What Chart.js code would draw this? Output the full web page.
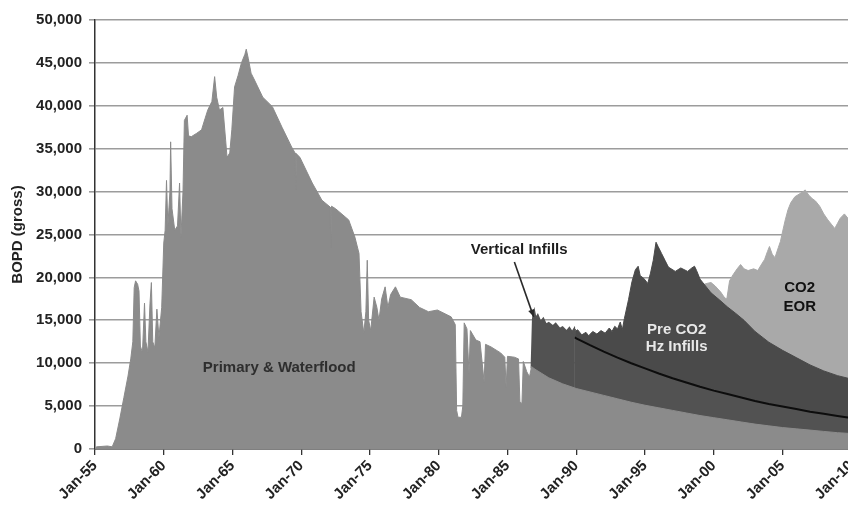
<!DOCTYPE html>
<html>
<head>
<meta charset="utf-8">
<script src="https://cdn.jsdelivr.net/npm/chart.js@4.4.1/dist/chart.umd.min.js"></script>
<style>
  html, body { margin: 0; padding: 0; background: #fff; overflow: hidden; }
  #wrap { position: absolute; left: 0; top: 0; width: 866px; height: 508px; }
</style>
</head>
<body>
<div id="wrap"><canvas id="c" width="866" height="508"></canvas></div>
<script>
// ---- Data (BOPD gross, top edge of each stacked band) ----
const tickYears = [1955,1960,1965,1970,1975,1980,1985,1990,1995,2000,2005,2010];
const tickLabels = ['Jan-55','Jan-60','Jan-65','Jan-70','Jan-75','Jan-80','Jan-85','Jan-90','Jan-95','Jan-00','Jan-05','Jan-10'];
const yTickValues = [0,5000,10000,15000,20000,25000,30000,35000,40000,45000,50000];

// Primary & Waterflood
const primaryYears = [1955.0,1955.1,1955.9,1956.25,1956.5,1956.8,1957.1,1957.4,1957.6,1957.75,1957.85,1957.95,1958.1,1958.2,1958.3,1958.45,1958.6,1958.7,1958.85,1959.0,1959.1,1959.2,1959.35,1959.5,1959.65,1959.85,1960.0,1960.1,1960.2,1960.3,1960.45,1960.5,1960.6,1960.8,1961.0,1961.15,1961.25,1961.4,1961.5,1961.7,1961.8,1962.0,1962.4,1962.75,1963.0,1963.2,1963.5,1963.7,1963.85,1964.05,1964.3,1964.5,1964.6,1964.8,1964.95,1965.15,1965.4,1965.65,1965.9,1966.0,1966.15,1966.35,1966.6,1967.2,1967.9,1968.6,1969.3,1969.55,1969.6,1969.65,1969.9,1970.8,1971.5,1972.1,1972.15,1972.2,1972.5,1973.45,1973.9,1974.2,1974.35,1974.55,1974.7,1974.8,1974.9,1975.05,1975.3,1975.5,1975.65,1975.85,1976.1,1976.3,1976.5,1976.85,1977.2,1978.0,1978.6,1979.25,1979.9,1980.9,1981.2,1981.3,1981.4,1981.65,1981.75,1981.85,1982.05,1982.2,1982.3,1982.7,1983.0,1983.3,1983.4,1983.8,1984.5,1984.8,1984.9,1985.0,1985.5,1985.8,1985.9,1986.05,1986.15,1986.4,1986.6,1986.75,1987,1988,1989,1990,1991,1992,1993,1994,1995,1996,1997,1998,1999,2000,2001,2002,2003,2004,2005,2006,2007,2008,2009,2010];
const primaryValues = [0,250,350,250,1200,3500,6000,8500,10500,12500,18800,19600,19200,18400,12000,11200,17000,12500,11300,17000,19400,12500,11800,16300,13000,16500,24000,25500,31300,26000,30000,35800,28000,25500,26000,31000,24700,30000,38300,38900,36500,36400,36800,37200,38500,39500,40500,43400,41000,39500,39800,36000,34000,34500,37200,42200,43500,45000,46000,46600,45500,43800,43000,41000,39900,37500,35200,34500,30200,34400,34000,31000,29000,28200,23500,28300,28000,26700,24700,22800,16000,13500,16000,22000,15000,13800,17700,16500,15000,17500,18900,16500,18000,18900,17700,17400,16500,16000,16200,15400,14500,4500,3700,3700,5000,14700,14000,8800,13800,12700,12500,7800,12200,11900,11200,10700,7200,10800,10700,10500,5500,5300,10200,9000,8400,9600,9300,8300,7600,7050,6650,6250,5850,5450,5100,4800,4500,4200,3900,3650,3400,3150,2900,2700,2500,2350,2200,2050,1900,1800];

// Vertical Infills (cumulative top)
const verticalYears = [1986.75,1986.85,1986.95,1987.05,1987.2,1987.4,1987.6,1987.8,1988.0,1988.3,1988.5,1988.8,1989.0,1989.3,1989.5,1989.7,1989.85,1989.9,1990,1991,1992,1993,1994,1995,1996,1997,1998,1999,2000,2001,2002,2003,2004,2005,2006,2007,2008,2009,2010];
const verticalValues = [9400,15200,16000,15200,15600,14800,15200,14500,14700,14300,14600,14000,14200,13700,14100,13600,14000,13000,12900,12100,11350,10650,10000,9400,8800,8250,7750,7250,6800,6400,6000,5600,5250,4950,4650,4350,4100,3850,3600];

// Pre CO2 Hz Infills (cumulative top)
const hzYears = [1989.85,1990.1,1990.4,1990.7,1990.9,1991.2,1991.5,1991.8,1992.1,1992.4,1992.6,1992.8,1993.0,1993.2,1993.35,1993.5,1993.8,1994.05,1994.3,1994.5,1994.65,1994.9,1995.2,1995.4,1995.6,1995.8,1995.95,1996.2,1996.45,1996.7,1997.2,1997.6,1998.1,1998.4,1998.6,1998.75,1999.0,1999.4,1999.8,2000.4,2001.0,2001.6,2002.2,2003.0,2004.0,2005.0,2006.0,2007.0,2008.0,2009.0,2010.0];
const hzValues = [13600,13900,13300,13600,13200,13700,13400,13800,13500,14100,13700,14300,14000,14800,13900,15200,17400,19500,20900,21300,20200,19900,19300,20500,22000,24100,23600,22800,22000,21200,20700,21100,20700,21100,21300,20800,19800,19000,18200,17400,16550,15800,15000,13700,12450,11500,10650,9800,9100,8550,8150];

// CO2 EOR (cumulative top)
const co2Years = [1999.3,1999.5,1999.8,2000.1,2000.5,2000.8,2000.95,2001.15,2001.4,2001.7,2001.95,2002.2,2002.5,2002.9,2003.2,2003.5,2003.7,2003.9,2004.05,2004.25,2004.45,2004.7,2004.85,2005.0,2005.2,2005.4,2005.6,2005.9,2006.2,2006.5,2006.65,2006.9,2007.15,2007.4,2007.7,2008.0,2008.3,2008.55,2008.8,2009.0,2009.2,2009.5,2009.8,2010.0];
const co2Values = [19200,19300,19400,19000,18300,17600,17500,19600,20300,21000,21500,21000,20800,21000,20800,21600,22100,23000,23600,22700,22300,23500,24200,25300,26700,27900,28700,29400,29700,30000,30200,29600,29200,28900,28300,27400,26700,26200,25700,26300,26900,27400,26800,27000];

const pts = (xs, ys) => xs.map((x, i) => ({ x: x, y: ys[i] }));

const FONT = "'Liberation Sans', Arial, Helvetica, sans-serif";
const C_PRIMARY = '#8b8b8b';
const C_VERT = '#525252';
const C_HZ = '#4a4a4a';
const C_CO2 = '#a9a9a9';

const labelPlugin = {
  id: 'labels',
  afterDatasetsDraw(chart) {
    const ctx = chart.ctx, xs = chart.scales.x, ys = chart.scales.y;
    const P = (yr, v) => [xs.getPixelForValue(yr), ys.getPixelForValue(v)];
    ctx.save();
    ctx.textAlign = 'center';
    ctx.textBaseline = 'middle';
    ctx.font = 'bold 15px ' + FONT;
    const txt = (s, yr, v, col) => { const p = P(yr, v); ctx.fillStyle = col; ctx.fillText(s, p[0], p[1]); };
    txt('Primary & Waterflood', 1968.4, 9400, '#2e2e2e');
    txt('Vertical Infills', 1985.85, 23200, '#1e1e1e');
    txt('Pre CO2', 1997.3, 13900, '#e8e8e8');
    txt('Hz Infills', 1997.3, 11900, '#e8e8e8');
    txt('CO2', 2006.25, 18800, '#111');
    txt('EOR', 2006.25, 16550, '#111');
    // arrow
    const a = P(1985.5, 21800), b = P(1986.9, 15400);
    ctx.strokeStyle = '#2a2a2a'; ctx.fillStyle = '#2a2a2a'; ctx.lineWidth = 1.6;
    ctx.beginPath(); ctx.moveTo(a[0], a[1]); ctx.lineTo(b[0], b[1]); ctx.stroke();
    const ang = Math.atan2(b[1] - a[1], b[0] - a[0]);
    ctx.beginPath();
    ctx.moveTo(b[0], b[1]);
    ctx.lineTo(b[0] - 8 * Math.cos(ang - 0.4), b[1] - 8 * Math.sin(ang - 0.4));
    ctx.lineTo(b[0] - 8 * Math.cos(ang + 0.4), b[1] - 8 * Math.sin(ang + 0.4));
    ctx.closePath(); ctx.fill();
    ctx.restore();
  }
};

const area = (label, data, color) => ({
  label, data, fill: 'origin', backgroundColor: color, borderColor: color,
  borderWidth: 1, pointRadius: 0, tension: 0
});

const vertDs = area('Vertical Infills', pts(verticalYears, verticalValues), C_VERT);
vertDs.borderWidth = 2;
vertDs.segment = { borderColor: c => (c.p0.parsed.x >= 1989.9 ? '#0d0d0d' : C_VERT) };

new Chart(document.getElementById('c'), {
  type: 'line',
  data: {
    datasets: [
      area('Primary & Waterflood', pts(primaryYears, primaryValues), C_PRIMARY),
      vertDs,
      area('Pre CO2 Hz Infills', pts(hzYears, hzValues), C_HZ),
      area('CO2 EOR', pts(co2Years, co2Values), C_CO2)
    ]
  },
  options: {
    responsive: false,
    animation: false,
    devicePixelRatio: 1,
    layout: { padding: { top: 20, right: 10, left: 0, bottom: 0 } },
    plugins: { legend: { display: false }, tooltip: { enabled: false } },
    scales: {
      x: {
        type: 'linear', min: 1955, max: 2010,
        afterBuildTicks: s => { s.ticks = tickYears.map(v => ({ value: v })); },
        afterFit: s => { s.height = 59; },
        ticks: {
          callback: v => tickLabels[tickYears.indexOf(v)],
          minRotation: 45, maxRotation: 45, autoSkip: false,
          font: { family: FONT, size: 15, weight: 'bold' }, color: '#222', padding: 2
        },
        grid: { drawOnChartArea: false, drawTicks: true, tickLength: 6, color: '#333', lineWidth: 1.3 },
        border: { display: true, color: '#333', width: 1.5 }
      },
      y: {
        min: 0, max: 50000,
        afterBuildTicks: s => { s.ticks = yTickValues.map(v => ({ value: v })); },
        afterFit: s => { s.width = 95; },
        ticks: {
          callback: v => v.toLocaleString('en-US'),
          font: { family: FONT, size: 15, weight: 'bold' }, color: '#222', padding: 7
        },
        grid: { color: '#9c9c9c', lineWidth: 1.6, tickLength: 6 },
        border: { display: true, color: '#333', width: 1.5 },
        title: {
          display: true, text: 'BOPD (gross)', color: '#222',
          font: { family: FONT, size: 15, weight: 'bold' }, padding: { top: 9, bottom: 0 }
        }
      }
    }
  },
  plugins: [labelPlugin]
});
</script>
</body>
</html>
